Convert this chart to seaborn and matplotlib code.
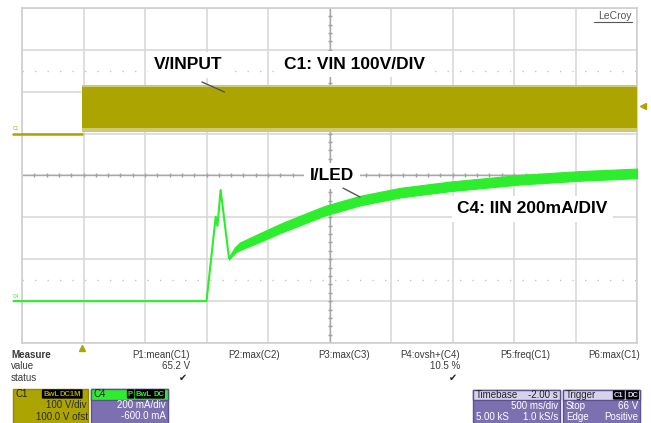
import numpy as np
import pandas as pd
import matplotlib.pyplot as plt
import seaborn as sns
from matplotlib.patches import Rectangle
from matplotlib.lines import Line2D

# ---- scope settings (divisions: 10 x 8) ----
C1_SCALE, C1_OFFSET = 100.0, 100.0      # V/div, V
C4_SCALE, C4_OFFSET = 200.0, -600.0     # mA/div, mA

# ---- C1: input voltage (V) ----
c1_base_t = [-0.07, 0.49]
c1_base_v = [0, 0]
c1_band_t = [0.49, 5.0]
c1_band_lo = [13, 13]
c1_band_hi = [112, 112]
c1_fringe_lo = [3, 3]
c1_fringe_hi = [117, 117]

# ---- C4: LED current (mA) ----
c4_t = [-0.07, 1.50, 1.575, 1.589, 1.615, 1.683]
c4_ma = [0, 0, 403, 359, 531, 205]
c4_band_t = [1.683, 1.732, 1.772, 1.935, 2.098, 2.260, 2.463, 2.748, 3.073, 3.480, 4.049, 4.537, 5.0]
c4_band_mid = [205, 244, 262, 304, 347, 385, 432, 480, 518, 548, 580, 598, 610]
c4_band_hw = [7, 14, 18, 21, 22, 23, 23, 23, 23, 23, 23, 23, 23]

# ---- measurement panel ----
meas_names = ["P1:mean(C1)", "P2:max(C2)", "P3:max(C3)", "P4:ovsh+(C4)", "P5:freq(C1)", "P6:max(C1)"]
meas_values = ["65.2 V", "", "", "10.5 %", "", ""]
meas_status = ["\u2714", "", "", "\u2714", "", ""]


def c1_div(v):
    return 4 + (np.asarray(v, float) + C1_OFFSET) / C1_SCALE


def c4_div(ma):
    return 4 + (np.asarray(ma, float) + C4_OFFSET) / C4_SCALE


YEL = "#aca400"
YEL_LIGHT = "#cfc976"
GRN = "#2cee2c"
PURPLE = "#7d70b0"
LAV = "#d6d2ec"

sns.set_theme(style="white")
plt.rcParams["font.family"] = ["Liberation Sans", "DejaVu Sans"]

W, H = 651, 423
fig = plt.figure(figsize=(W / 100, H / 100), dpi=100)
ax = fig.add_axes([22 / W, 1 - 343 / H, 615 / W, 335 / H])


def fx(x):
    return x / W


def fy(y):
    return 1 - y / H


# grid
ax.set_xlim(0, 5)
ax.set_ylim(0, 8)
ax.set_xticks(np.arange(0, 5.01, 0.5))
ax.set_yticks(range(9))
ax.grid(True, color="#d6d6d6", lw=1.1, zorder=0)
ax.tick_params(length=0, labelbottom=False, labelleft=False)
for s in ax.spines.values():
    s.set_color("#cfcfcf")
    s.set_linewidth(1.2)

ax.axhline(4, color="#a8a8a8", lw=1, zorder=1)
ax.axvline(2.5, color="#a8a8a8", lw=1, zorder=1)
tx = np.arange(0.1, 5.0, 0.1)
ax.plot(tx, np.full_like(tx, 4), ls="none", marker="|", ms=3, color="#a0a0a0", zorder=1)
ty = np.arange(0.2, 8.0, 0.2)
ax.plot(np.full_like(ty, 2.5), ty, ls="none", marker="_", ms=3, color="#a0a0a0", zorder=1)
for lvl in (1.5, 6.5):
    ax.axhline(lvl, color="#c4c4c4", lw=1, ls=(0, (1, 8)), zorder=1)

# C1 trace
ax.fill_between(c1_band_t, c1_div(c1_fringe_lo), c1_div(c1_fringe_hi), color=YEL_LIGHT, lw=0, zorder=4)
ax.fill_between(c1_band_t, c1_div(c1_band_lo), c1_div(c1_band_hi), color=YEL, lw=0, zorder=4)
df1 = pd.DataFrame({"t": c1_base_t, "div": c1_div(c1_base_v)})
sns.lineplot(data=df1, x="t", y="div", ax=ax, color=YEL, lw=1.8, estimator=None, sort=False, zorder=4)
ax.lines[-1].set_clip_on(False)

# C4 trace
df4 = pd.DataFrame({"t": c4_t, "div": c4_div(c4_ma)})
sns.lineplot(data=df4, x="t", y="div", ax=ax, color=GRN, lw=1.5, estimator=None, sort=False, zorder=4)
ax.lines[-1].set_clip_on(False)
mid = np.asarray(c4_band_mid, float)
hw = np.asarray(c4_band_hw, float)
ax.fill_between(c4_band_t, c4_div(mid - hw), c4_div(mid + hw), color=GRN, lw=0.8, ec=GRN, zorder=4)

# channel / trigger markers
ax.plot(0.49, -0.12, marker="^", ms=5, color=YEL, clip_on=False, zorder=5)
ax.plot(5.05, c1_div(66), marker="<", ms=4, color=YEL, clip_on=False, zorder=5)
ax.text(-0.075, c1_div(0) + 0.06, "C1", fontsize=3.5, color=YEL, ha="left", va="bottom")
ax.text(-0.075, c4_div(0) + 0.06, "C4", fontsize=3.5, color=GRN, ha="left", va="bottom")

# annotations
lab = dict(fontsize=12.5, fontweight="bold", color="black", ha="center", va="center", zorder=3,
           bbox=dict(fc="white", ec="none", pad=4))
ax.text(1.35, 6.64, "V/INPUT", **lab)
ax.text(2.70, 6.66, "C1: VIN 100V/DIV", **lab)
ax.text(2.52, 3.99, "I/LED", **lab)
ax.text(4.15, 3.20, "C4: IIN 200mA/DIV", **lab)
ax.plot([1.463, 1.646], [6.233, 5.994], color="#555555", lw=1, zorder=5)
ax.plot([2.61, 2.748], [3.70, 3.487], color="#555555", lw=1, zorder=5)

fig.text(fx(632), fy(16), "LeCroy", fontsize=7.5, color="#555555", ha="right", va="center")
fig.add_artist(Line2D([fx(594), fx(632)], [fy(22), fy(22)], color="#555555", lw=0.8))

# measurement panel
txt = dict(fontsize=7, color="#3a3a3a", va="center")
fig.text(fx(11), fy(355), "Measure", fontweight="bold", ha="left", **txt)
fig.text(fx(11), fy(366), "value", ha="left", **txt)
fig.text(fx(11), fy(378), "status", ha="left", **txt)
for i, (n, v, s) in enumerate(zip(meas_names, meas_values, meas_status)):
    xr = fx(190 + 90 * i)
    fig.text(xr, fy(355), n, ha="right", **txt)
    fig.text(xr, fy(366), v, ha="right", **txt)
    fig.text(xr - 0.004, fy(378), s, ha="right", fontsize=7, color="#222222", va="center",
             family="DejaVu Sans")


def box(x0, y0, x1, y1, fc, ec):
    fig.add_artist(Rectangle((fx(x0), fy(y1)), fx(x1 - x0), (y1 - y0) / H, fc=fc, ec=ec, lw=1,
                             transform=fig.transFigure))


def tag(x, y, s, col):
    fig.text(fx(x), fy(y), s, fontsize=5.5, color=col, ha="left", va="center", fontweight="bold",
             bbox=dict(boxstyle="round,pad=0.15", fc="black", ec="none"))


# C1 box
box(13, 389, 88, 426, YEL, "#8f8800")
fig.text(fx(16), fy(394), "C1", fontsize=7, color="#222222", va="center")
tag(43, 394, "BwL", YEL)
tag(60, 394, "DC1M", YEL)
fig.text(fx(86), fy(405), "100 V/div", fontsize=7, color="#2a2a2a", ha="right", va="center")
fig.text(fx(88), fy(416.5), "100.0 V ofst", fontsize=7, color="#2a2a2a", ha="right", va="center")

# C4 box
box(91, 389, 168, 426, PURPLE, "#5d5290")
box(91, 389, 168, 400, GRN, "#5d5290")
fig.text(fx(94), fy(394), "C4", fontsize=7, color="#222222", va="center")
tag(128, 394, "P", GRN)
tag(136, 394, "BwL", GRN)
tag(153, 394, "DC", GRN)
fig.text(fx(166), fy(405), "200 mA/div", fontsize=7, color="white", ha="right", va="center")
fig.text(fx(166), fy(416), "-600.0 mA", fontsize=7, color="white", ha="right", va="center")

# Timebase box
box(473, 390, 560, 426, PURPLE, "#5d5290")
box(473, 390, 560, 400, LAV, "#5d5290")
fig.text(fx(476), fy(395), "Timebase", fontsize=7, color="#222222", va="center")
fig.text(fx(558), fy(395), "-2.00 s", fontsize=7, color="#222222", ha="right", va="center")
fig.text(fx(558), fy(406), "500 ms/div", fontsize=7, color="white", ha="right", va="center")
fig.text(fx(476), fy(417), "5.00 kS", fontsize=7, color="white", va="center")
fig.text(fx(558), fy(417), "1.0 kS/s", fontsize=7, color="white", ha="right", va="center")

# Trigger box
box(563, 390, 640, 426, PURPLE, "#5d5290")
box(563, 390, 640, 400, LAV, "#5d5290")
fig.text(fx(566), fy(395), "Trigger", fontsize=7, color="#222222", va="center")
tag(614, 395, "C1", LAV)
tag(627, 395, "DC", LAV)
fig.text(fx(566), fy(406), "Stop", fontsize=7, color="white", va="center")
fig.text(fx(638), fy(406), "66 V", fontsize=7, color="white", ha="right", va="center")
fig.text(fx(566), fy(417), "Edge", fontsize=7, color="white", va="center")
fig.text(fx(638), fy(417), "Positive", fontsize=7, color="white", ha="right", va="center")

fig.savefig("out.png", dpi=100)
